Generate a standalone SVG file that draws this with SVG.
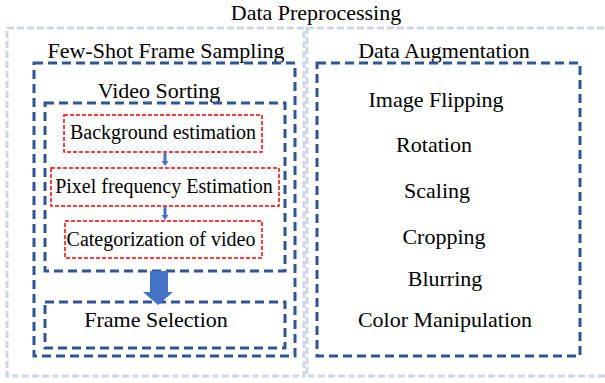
<svg xmlns="http://www.w3.org/2000/svg" width="605" height="383" viewBox="0 0 605 383" font-family="'Liberation Serif', 'Times New Roman', 'DejaVu Serif', serif">
<style>
text{font-family:'Liberation Serif','Times New Roman','DejaVu Serif',serif;fill:#000;text-anchor:middle}
.t{font-size:22px}
.s{font-size:20px}
.light{fill:none;stroke:#CDD6E6;stroke-width:3;stroke-dasharray:7 3}
.dark{fill:none;stroke:#2F5597;stroke-width:3;stroke-dasharray:9 5}
.red{fill:none;stroke:#FF0000;stroke-width:1.5;stroke-dasharray:4 2}
.arr{fill:#4472C4}
</style>
<rect width="605" height="383" fill="#fff"/>
<text class="t" x="316" y="20">Data Preprocessing</text>
<g id="preprocessing-left">
<rect class="light" x="7" y="28" width="297" height="348"/>
</g>
<g id="preprocessing-right">
<rect class="light" x="307" y="28" width="305" height="348"/>
</g>
<g id="few-shot">
<text class="t" x="166" y="58">Few-Shot Frame Sampling</text>
<rect class="dark" x="34" y="63" width="261" height="293"/>
</g>
<g id="video-sorting">
<text class="t" x="159" y="98">Video Sorting</text>
<rect class="dark" x="45" y="103" width="240" height="168"/>
</g>
<g id="background">
<rect class="red" x="64" y="115" width="198" height="37"/>
<text class="s" x="163" y="139">Background estimation</text>
</g>
<g id="pixel">
<rect class="red" x="51" y="168" width="228" height="38"/>
<text class="s" x="164" y="193">Pixel frequency Estimation</text>
</g>
<g id="categorization">
<rect class="red" x="65" y="221" width="197" height="37"/>
<text class="s" x="161" y="246">Categorization of video</text>
</g>
<g id="frame-selection">
<rect class="dark" x="45" y="302" width="240" height="46"/>
<text class="t" x="156" y="327">Frame Selection</text>
</g>
<g id="data-augmentation">
<text class="t" x="444" y="58">Data Augmentation</text>
<rect class="dark" x="317" y="63" width="263" height="293"/>
<text class="t" x="436" y="107">Image Flipping</text>
<text class="t" x="434" y="152">Rotation</text>
<text class="t" x="437" y="198">Scaling</text>
<text class="t" x="444" y="244">Cropping</text>
<text class="t" x="445" y="286">Blurring</text>
<text class="t" x="445" y="327">Color Manipulation</text>
</g>
<g id="connectors">
<path class="arr" d="M163.5 153 h3 v8 h2 l-3.5 5 l-3.5 -5 h2 z"/>
<path class="arr" d="M163.5 207 h3 v8 h2 l-3.5 5 l-3.5 -5 h2 z"/>
<path class="arr" d="M150 271 h18 v21 h5 l-15 13 l-15 -13 h7 z"/>
</g>
</svg>
